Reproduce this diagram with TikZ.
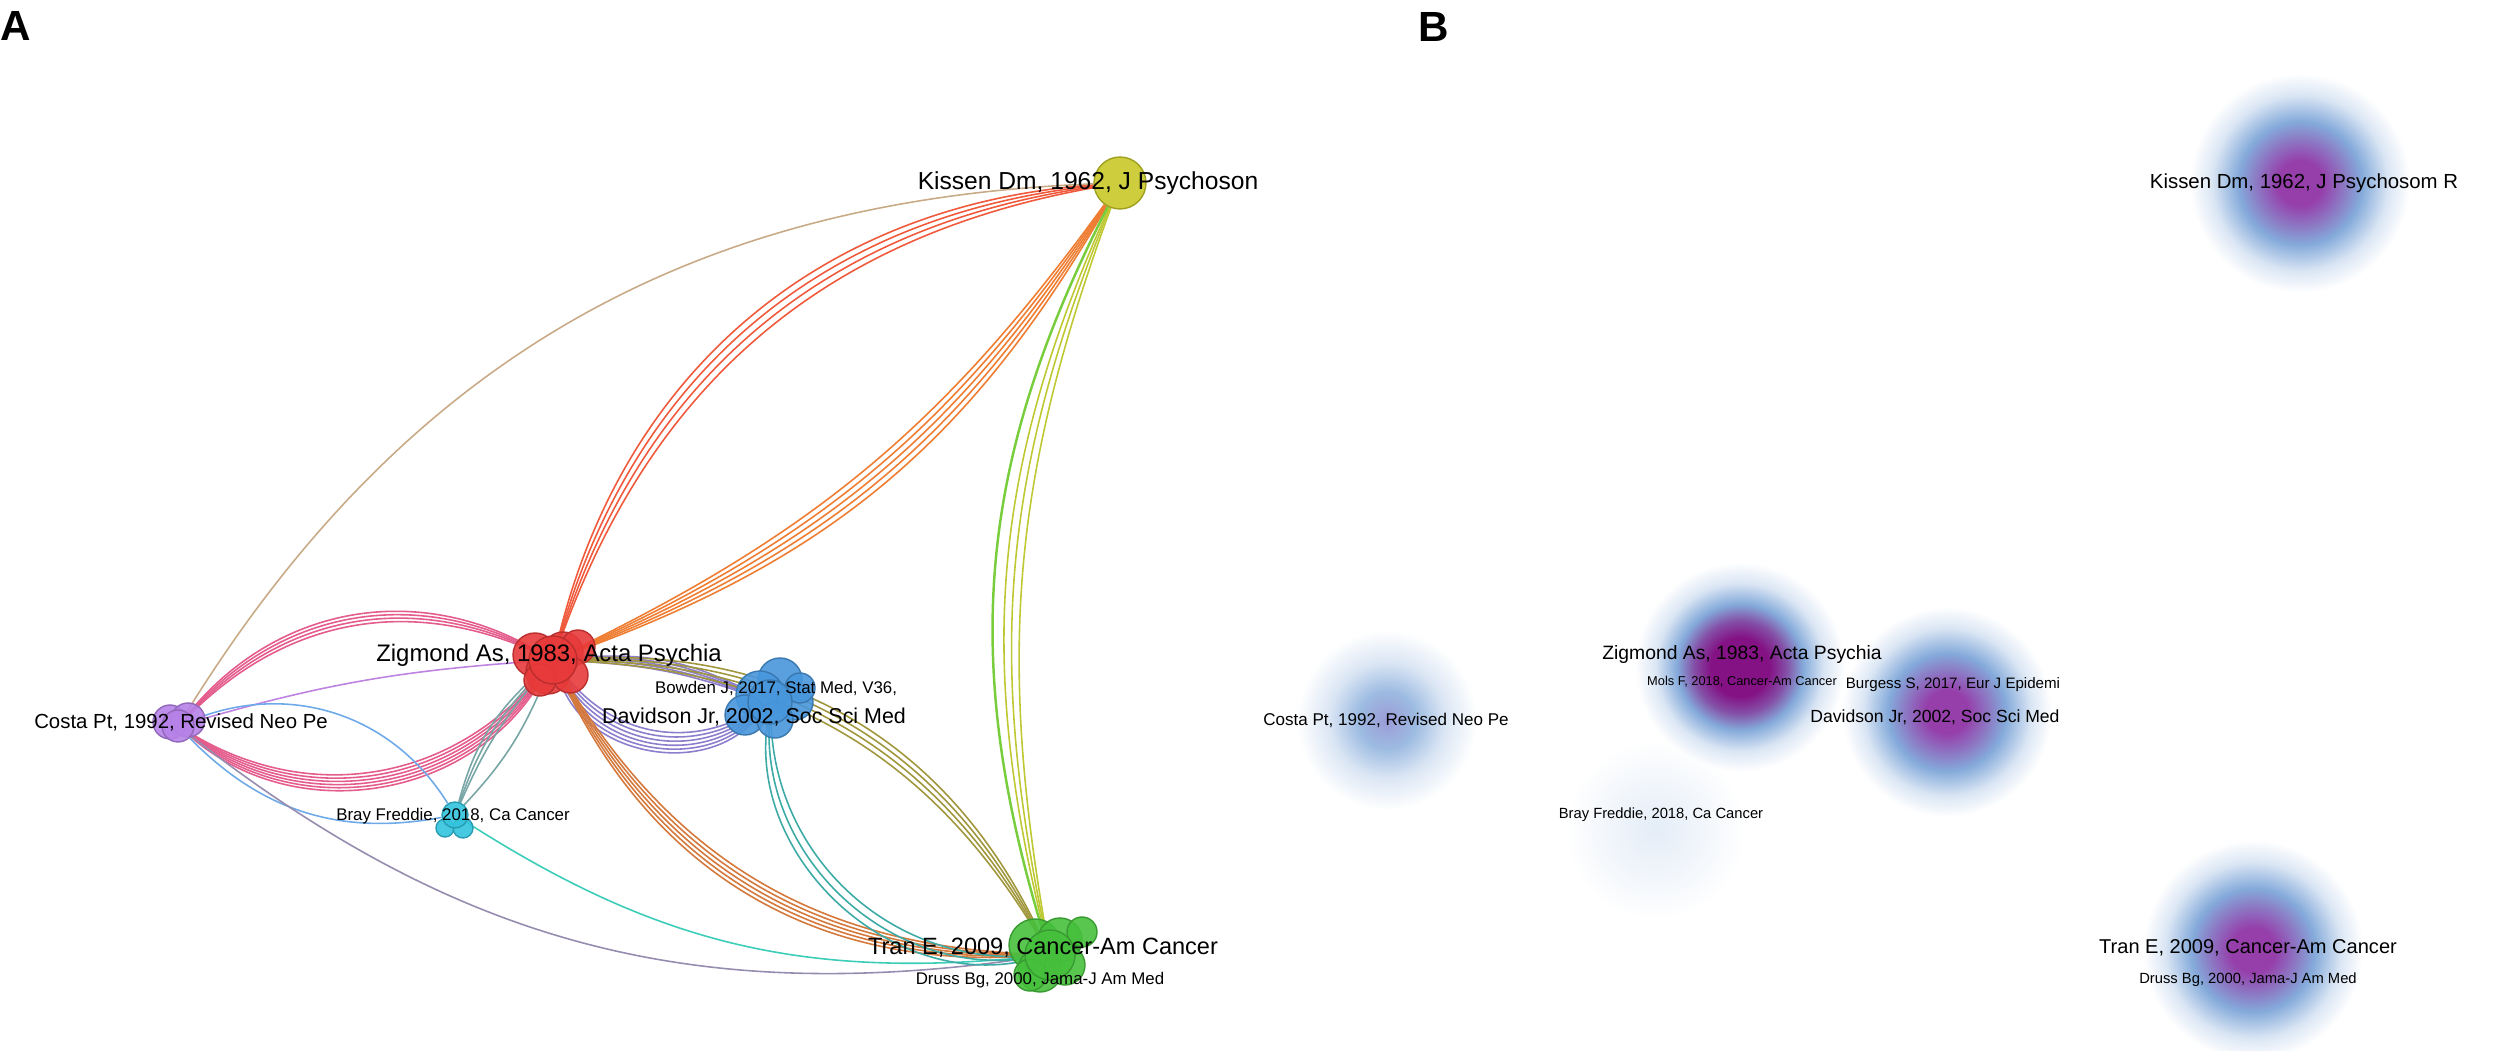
\documentclass[tikz,border=0pt]{standalone}
\usepackage{fontspec}
\setmainfont{Liberation Sans}
\usetikzlibrary{backgrounds}

\definecolor{zigred}{RGB}{232,58,58}
\definecolor{kisyel}{RGB}{200,200,40}
\definecolor{davblue}{RGB}{72,150,220}
\definecolor{tragreen}{RGB}{70,192,60}
\definecolor{cospurple}{RGB}{182,130,232}
\definecolor{braycyan}{RGB}{50,196,222}
\definecolor{zkred}{RGB}{240,90,60}
\definecolor{zkorange}{RGB}{238,125,50}
\definecolor{cktan}{RGB}{200,170,135}
\definecolor{ktyel}{RGB}{190,200,50}
\definecolor{ktgreen}{RGB}{120,205,60}
\definecolor{czpink}{RGB}{228,92,140}
\definecolor{czlilac}{RGB}{190,130,225}
\definecolor{zdpurple}{RGB}{140,125,205}
\definecolor{ztorange}{RGB}{212,120,60}
\definecolor{ztolive}{RGB}{160,150,60}
\definecolor{dtteal}{RGB}{60,170,165}
\definecolor{btcyan}{RGB}{60,205,185}
\definecolor{ctgrey}{RGB}{150,140,175}
\definecolor{cbblue}{RGB}{110,170,232}
\definecolor{bzteal}{RGB}{120,165,165}
\definecolor{dpurple}{RGB}{132,18,132}
\definecolor{mpurple}{RGB}{150,62,170}
\definecolor{dblue}{RGB}{132,170,218}
\definecolor{dlav}{RGB}{155,155,215}

\pgfdeclareradialshading{densea}{\pgfpointorigin}{color(0bp)=(dpurple); color(7bp)=(dpurple); color(11bp)=(dpurple!60!dblue); color(15bp)=(dblue); color(20bp)=(dblue!30); color(25bp)=(white); color(50bp)=(white)}
\pgfdeclareradialshading{denseb}{\pgfpointorigin}{color(0bp)=(mpurple); color(5bp)=(mpurple); color(10bp)=(mpurple!45!dblue); color(14bp)=(dblue); color(20bp)=(dblue!30); color(25bp)=(white); color(50bp)=(white)}
\pgfdeclareradialshading{densec}{\pgfpointorigin}{color(0bp)=(dlav); color(8bp)=(dblue!80); color(16bp)=(dblue!30); color(25bp)=(white); color(50bp)=(white)}
\pgfdeclareradialshading{densed}{\pgfpointorigin}{color(0bp)=(dblue!22); color(14bp)=(dblue!10); color(25bp)=(white); color(50bp)=(white)}

\tikzset{
  clus/.style={circle, draw=#1!80!black, fill=#1, fill opacity=.9, inner sep=0pt},
  lnk/.style={line width=.45pt, draw=#1},
  lbl/.style={font=\fontsize{#1}{#1}\selectfont, inner sep=0pt},
  blob/.style={circle, shade, shading=#1, inner sep=0pt},
  panel/.style={font=\bfseries\fontsize{12}{12}\selectfont, inner sep=0pt, anchor=west}
}

\begin{document}
\begin{tikzpicture}[x=0.1mm, y=-0.1mm]
\useasboundingbox (0,0) rectangle (2500,1051);
\node[panel] (pa) at (0,26) {A};
\node[panel] (pb) at (1418,27) {B};

\foreach \x/\y/\r in {535/655/22, 563/652/20, 578/647/17, 548/672/22, 570/675/18, 540/680/16}
  \fill[zigred, draw=zigred!80!black, fill opacity=.9] (\x,\y) circle (\r);
\node[clus=zigred, minimum size=4.8mm] (zig) at (553,660) {};
\foreach \x/\y/\r in {780/680/22, 760/695/24, 795/702/18, 745/715/20, 775/720/18, 800/688/15}
  \fill[davblue, draw=davblue!80!black, fill opacity=.9] (\x,\y) circle (\r);
\node[clus=davblue, minimum size=4.4mm] (dav) at (770,702) {};
\foreach \x/\y/\r in {1035/945/26, 1060/940/22, 1082/932/15, 1040/970/22, 1065/965/20, 1030/975/16}
  \fill[tragreen, draw=tragreen!80!black, fill opacity=.9] (\x,\y) circle (\r);
\node[clus=tragreen, minimum size=5mm] (tra) at (1050,955) {};
\foreach \x/\y/\r in {170/722/17, 188/720/17}
  \fill[cospurple, draw=cospurple!80!black, fill opacity=.9] (\x,\y) circle (\r);
\node[clus=cospurple, minimum size=3.2mm] (cos) at (178,726) {};
\foreach \x/\y/\r in {445/828/9, 463/828/10}
  \fill[braycyan, draw=braycyan!80!black, fill opacity=.9] (\x,\y) circle (\r);
\node[clus=braycyan, minimum size=2.6mm] (bra) at (455,815) {};
\node[clus=kisyel, minimum size=5.2mm] (kis) at (1120,183) {};

\begin{pgfonlayer}{background}
\foreach \b in {30,32,34,36} \draw[lnk=zkred] (zig) to[bend left=\b] (kis);
\foreach \b in {14,15.5,...,20} \draw[lnk=zkorange] (zig) to[bend right=\b] (kis);
\draw[lnk=cktan] (cos) to[bend left=28] (kis);
\foreach \b in {15,17,19} \draw[lnk=ktyel] (kis) to[bend right=\b] (tra);
\draw[lnk=ktgreen, line width=.7pt] (kis) to[bend right=22] (tra);
\foreach \b in {34,36,38,40} \draw[lnk=czpink] (cos) to[bend left=\b] (zig);
\foreach \b in {40,42,...,50} \draw[lnk=czpink] (cos) to[bend right=\b] (zig);
\draw[lnk=czlilac] (cos) to[bend left=6] (zig);
\draw[lnk=cbblue] (cos) to[bend left=40] (bra);
\draw[lnk=cbblue] (cos) to[bend right=28] (bra);
\draw[lnk=ctgrey] (cos) to[bend right=23] (tra);
\foreach \b in {8,12,16} \draw[lnk=bzteal] (bra) to[bend left=\b] (zig);
\draw[lnk=bzteal] (bra) to[bend right=10] (zig);
\draw[lnk=btcyan] (bra) to[bend right=19] (tra);
\foreach \b in {8,10,...,16} \draw[lnk=zdpurple] (zig) to[bend left=\b] (dav);
\foreach \b in {40,44,...,60} \draw[lnk=zdpurple] (zig) to[bend right=\b] (dav);
\foreach \b in {28,29.5,...,34} \draw[lnk=ztorange] (zig) to[bend right=\b] (tra);
\foreach \b in {28,30,...,34} \draw[lnk=ztolive] (zig) to[bend left=\b] (tra);
\foreach \b in {45,50,55} \draw[lnk=dtteal] (dav) to[bend right=\b] (tra);
\end{pgfonlayer}

\node[lbl=7.0] (kisl) at (1088,183) {Kissen Dm, 1962, J Psychoson};
\node[lbl=6.8] (zigl) at (549,655) {Zigmond As, 1983, Acta Psychia};
\node[lbl=4.8] (bowl) at (776,688) {Bowden J, 2017, Stat Med, V36,};
\node[lbl=6.1] (davl) at (754,717) {Davidson Jr, 2002, Soc Sci Med};
\node[lbl=5.8] (cosl) at (181,722) {Costa Pt, 1992, Revised Neo Pe};
\node[lbl=4.8] (bral) at (453,816) {Bray Freddie, 2018, Ca Cancer};
\node[lbl=6.7] (tral) at (1043,948) {Tran E, 2009, Cancer-Am Cancer};
\node[lbl=4.8] (drul) at (1040,980) {Druss Bg, 2000, Jama-J Am Med};

\node[blob=densed, minimum size=18mm] (brab) at (1655,830) {};
\node[blob=densec, minimum size=18mm] (cosb) at (1387,720) {};
\node[blob=densea, minimum size=21mm] (zigb) at (1740,667) {};
\node[blob=denseb, minimum size=21mm] (davb) at (1947,712) {};
\node[blob=denseb, minimum size=22mm] (kisb) at (2300,183) {};
\node[blob=denseb, minimum size=22mm] (trab) at (2253,950) {};

\node[lbl=5.8] (kisbl) at (2304,183) {Kissen Dm, 1962, J Psychosom R};
\node[lbl=5.5] (zigbl) at (1742,655) {Zigmond As, 1983, Acta Psychia};
\node[lbl=3.65] (molbl) at (1742,682) {Mols F, 2018, Cancer-Am Cancer};
\node[lbl=4.3] (burbl) at (1953,685) {Burgess S, 2017, Eur J Epidemi};
\node[lbl=5.0] (davbl) at (1935,717) {Davidson Jr, 2002, Soc Sci Med};
\node[lbl=4.85] (cosbl) at (1386,720) {Costa Pt, 1992, Revised Neo Pe};
\node[lbl=4.2] (brabl) at (1661,815) {Bray Freddie, 2018, Ca Cancer};
\node[lbl=5.7] (trabl) at (2248,948) {Tran E, 2009, Cancer-Am Cancer};
\node[lbl=4.2] (drubl) at (2248,980) {Druss Bg, 2000, Jama-J Am Med};
\end{tikzpicture}
\end{document}
